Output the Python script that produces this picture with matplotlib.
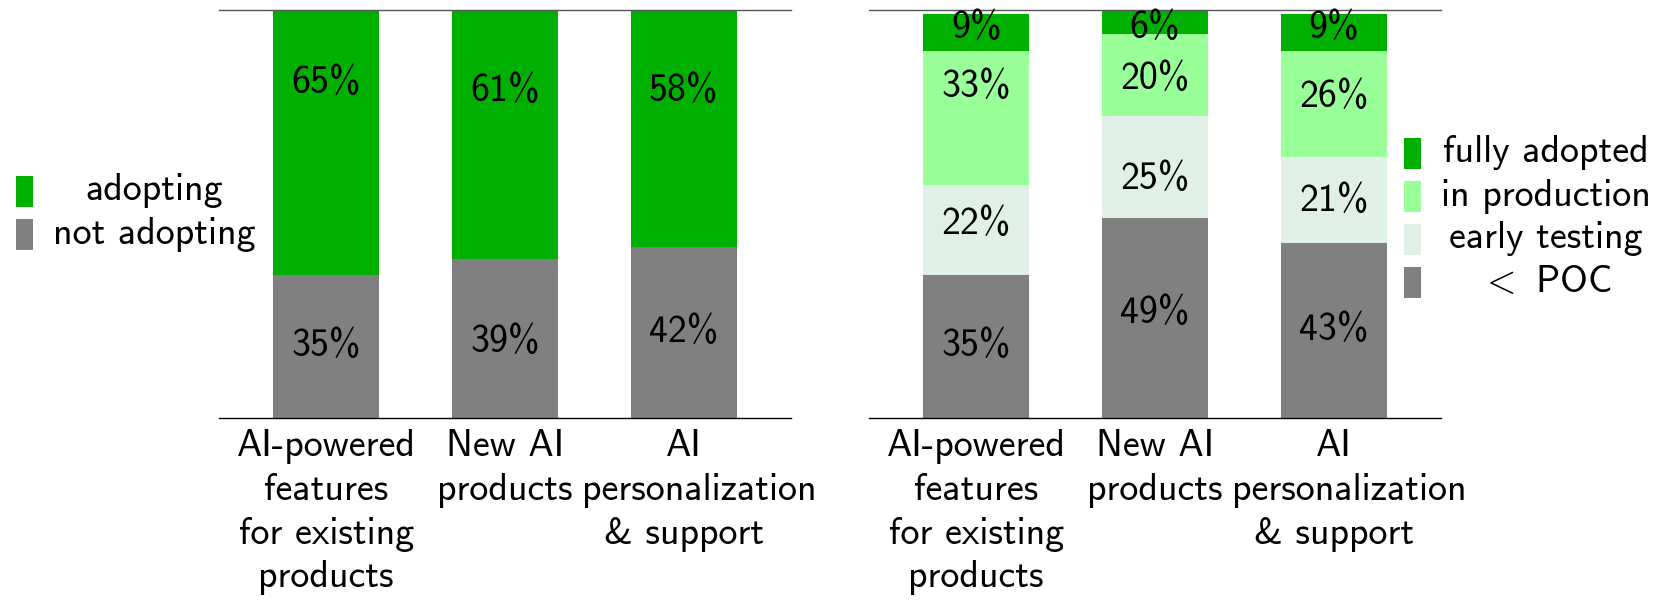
import numpy as np
import matplotlib
matplotlib.use("Agg")
import matplotlib.pyplot as plt
from matplotlib.patches import Rectangle

plt.rcParams['font.family'] = ['cmss10', 'DejaVu Sans']
plt.rcParams['mathtext.fontset'] = 'cm'
plt.rcParams['axes.unicode_minus'] = False

categories = ["AI-powered\nfeatures\nfor existing\nproducts",
              "New AI\nproducts",
              "AI\npersonalization\n& support"]

# left panel
not_adopting = [35, 39, 42]
adopting = [65, 61, 58]

# right panel
poc = [35, 49, 43]
early_testing = [22, 25, 21]
in_production = [33, 20, 26]
fully_adopted = [9, 6, 9]

GREEN = '#00b000'
LIGHT = '#99ff99'
PALE = '#e0f0e6'
GRAY = '#808080'
FS = 27.3
W, H = 1665, 610

fig = plt.figure(figsize=(W / 100, H / 100), dpi=100)
ax1 = fig.add_axes([0.1315, 0.3148, 0.3436, 0.6688])
ax2 = fig.add_axes([0.5219, 0.3148, 0.3436, 0.6688])

x = np.arange(len(categories))
w = 0.59


def stack(ax, series, colors, nudges):
    bottom = np.zeros(len(categories))
    for vals, col, nud in zip(series, colors, nudges):
        vals = np.array(vals, dtype=float)
        ax.bar(x, vals, w, bottom=bottom, color=col, linewidth=0)
        for xi, b, v, n in zip(x, bottom, vals, nud):
            ax.text(xi, b + v / 2 + n, f"{int(v)}%", ha='center', va='center',
                    fontsize=FS)
        bottom += vals


def style(ax):
    ax.set_xlim(-0.6, 2.6)
    ax.set_ylim(0, 100)
    for s in ['left', 'right']:
        ax.spines[s].set_visible(False)
    ax.spines['top'].set_color('#555555')
    ax.spines['top'].set_linewidth(1.0)
    ax.spines['bottom'].set_color('black')
    ax.spines['bottom'].set_linewidth(1.0)
    ax.set_yticks([])
    ax.set_xticks([])


def xlabels(ax):
    # LaTeX-style fixed width boxes: centred lines, overfull lines start at the left
    r = fig.canvas.get_renderer()
    half = 101.5
    for xi, cat in zip(x, categories):
        cx = ax.transData.transform((xi, 0))[0]
        for j, line in enumerate(cat.split("\n")):
            yp = 447 + j * 43.5
            t = fig.text(cx / W, 1 - yp / H, line, ha='center', va='center',
                         fontsize=FS)
            if t.get_window_extent(r).width > 2 * half:
                t.set_ha('left')
                t.set_x((cx - half) / W)


stack(ax1, [not_adopting, adopting], [GRAY, GREEN],
      [[0, -1, 0], [14.5, 10.5, 9]])
stack(ax2, [poc, early_testing, in_production, fully_adopted],
      [GRAY, PALE, LIGHT, GREEN],
      [[0, 1, 0], [1.5, -3, -0.5], [7.5, -1, 1.5], [1, -1.5, 1]])
style(ax1)
style(ax2)
xlabels(ax1)
xlabels(ax2)


def legend(labels, colors, px, tx, y0):
    for i, (lab, col) in enumerate(zip(labels, colors)):
        yc = y0 + i * 43
        fig.add_artist(Rectangle((px / W, 1 - (yc + 16) / H), 17 / W,
                                 31 / H, transform=fig.transFigure,
                                 color=col, lw=0))
        fig.text(tx / W, 1 - yc / H, lab, ha='center', va='center',
                 fontsize=FS)


legend(["adopting", "not adopting"], [GREEN, GRAY], 16, 154, 191)
legend(["fully adopted", "in production", "early testing", r"$<$ POC"],
       [GREEN, LIGHT, PALE, GRAY], 1404, 1546, 153)

fig.savefig("out.png", dpi=100)
